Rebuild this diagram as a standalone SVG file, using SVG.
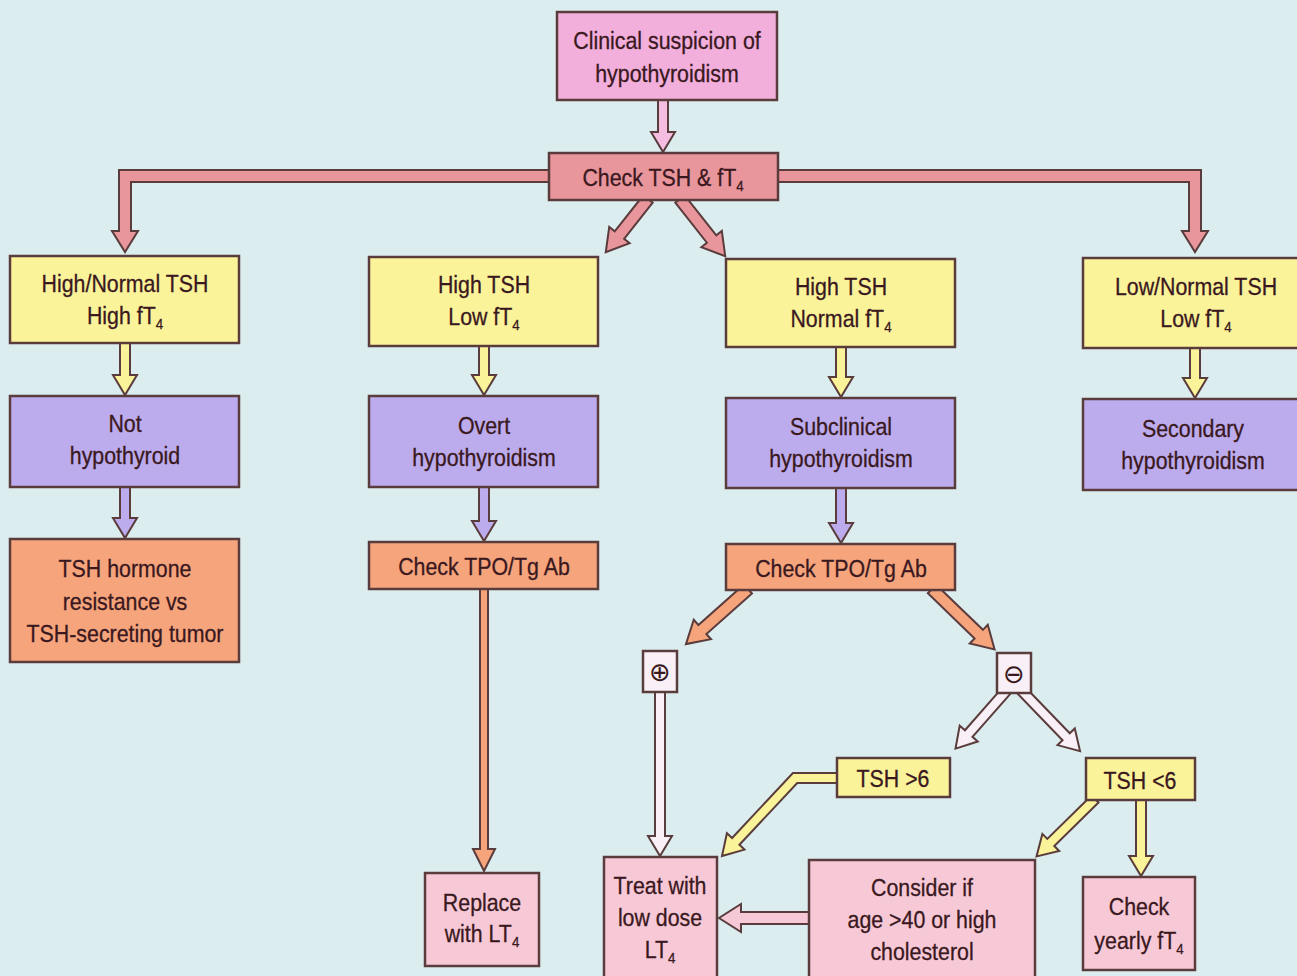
<svg xmlns="http://www.w3.org/2000/svg" width="1297" height="976" viewBox="0 0 1297 976">
<style>
.bx{stroke:#5a3c3c;stroke-width:2.5}
.ar{stroke:#5a3c3c;stroke-width:2;stroke-linejoin:miter}
.pk{fill:#f2afdc}
.pa{fill:#f5bde0}
.ck{fill:#e9959c}
.ye{fill:#fbf39a}
.pu{fill:#bcaced}
.or{fill:#f6a47c}
.lp{fill:#f7c9d7}
.wh{fill:#f8f0f6}
text{font-family:"Liberation Sans",Arial,sans-serif;font-size:24px;fill:#3a1820;text-anchor:middle;stroke:#3a1820;stroke-width:0.3}
.sub{font-size:15px}
.sym{font-family:"DejaVu Sans",sans-serif;font-size:26px;stroke-width:0}
</style>
<rect x="0" y="0" width="1297" height="976" fill="#dcedf0"/>
<g id="connectors">
  <polygon class="ar pa" transform="translate(663,100) rotate(90)" points="0,-5 32,-5 32,-12 52,0 32,12 32,5 0,5"/>
  <polygon class="ar ck" points="549,170 119,170 119,231 112,231 125,252 138,231 131,231 131,182 549,182"/>
  <polygon class="ar ck" points="778,170 1201,170 1201,231 1208,231 1195,252 1182,231 1189,231 1189,182 778,182"/>
  <polygon class="ar ck" transform="translate(648,199) rotate(128.4)" points="0,-6 46,-6 46,-13 68,0 46,13 46,6 0,6"/>
  <polygon class="ar ck" transform="translate(680,199) rotate(51.7)" points="0,-6 51,-6 51,-13 73,0 51,13 51,6 0,6"/>
  <polygon class="ar ye" transform="translate(125,343) rotate(90)" points="0,-5 32,-5 32,-12 52,0 32,12 32,5 0,5"/>
  <polygon class="ar ye" transform="translate(484,346) rotate(90)" points="0,-5 29,-5 29,-12 49,0 29,12 29,5 0,5"/>
  <polygon class="ar ye" transform="translate(841,347) rotate(90)" points="0,-5 30,-5 30,-12 50,0 30,12 30,5 0,5"/>
  <polygon class="ar ye" transform="translate(1195,348) rotate(90)" points="0,-5 30,-5 30,-12 50,0 30,12 30,5 0,5"/>
  <polygon class="ar pu" transform="translate(125,487) rotate(90)" points="0,-5 31,-5 31,-12 51,0 31,12 31,5 0,5"/>
  <polygon class="ar pu" transform="translate(484,487) rotate(90)" points="0,-5 34,-5 34,-12 54,0 34,12 34,5 0,5"/>
  <polygon class="ar pu" transform="translate(841,488) rotate(90)" points="0,-5 35,-5 35,-12 55,0 35,12 35,5 0,5"/>
  <polygon class="ar or" transform="translate(484,589) rotate(90)" points="0,-4 260,-4 260,-11 282,0 260,11 260,4 0,4"/>
  <polygon class="ar or" transform="translate(748,589) rotate(138.4)" points="0,-6 61,-6 61,-13 83,0 61,13 61,6 0,6"/>
  <polygon class="ar or" transform="translate(932,589) rotate(44)" points="0,-6 65,-6 65,-13 87,0 65,13 65,6 0,6"/>
  <polygon class="ar wh" transform="translate(660,692) rotate(90)" points="0,-5 144,-5 144,-12 164,0 144,12 144,5 0,5"/>
  <polygon class="ar wh" transform="translate(1007,690) rotate(131.3)" points="0,-5 58,-5 58,-12 78,0 58,12 58,5 0,5"/>
  <polygon class="ar wh" transform="translate(1021,690) rotate(46)" points="0,-5 65,-5 65,-12 85,0 65,12 65,5 0,5"/>
  <polygon class="ar ye" points="837,773 792.9,773 732.1,838 726.9,833.2 722,856 744.5,849.6 739.4,844.8 797.2,783 837,783"/>
  <polygon class="ar ye" transform="translate(1095,799) rotate(135.5)" points="0,-5 62,-5 62,-12 82,0 62,12 62,5 0,5"/>
  <polygon class="ar ye" transform="translate(1141,800) rotate(90)" points="0,-5 56,-5 56,-12 76,0 56,12 56,5 0,5"/>
  <polygon class="ar lp" transform="translate(809,918) rotate(180)" points="0,-6 68,-6 68,-14 90,0 68,14 68,6 0,6"/>
</g>
<g id="n-clinical"><rect class="bx pk" x="557" y="12" width="220" height="88"/><g transform="translate(667,0) scale(0.89,1)"><text x="0" y="49">Clinical suspicion of</text><text x="0" y="82">hypothyroidism</text></g></g>
<g id="n-check-tsh"><rect class="bx ck" x="549" y="153" width="229" height="47"/><g transform="translate(663,0) scale(0.89,1)"><text x="0" y="186">Check TSH &amp; fT<tspan class="sub" dy="5">4</tspan></text></g></g>
<g id="n-high-normal-tsh"><rect class="bx ye" x="10" y="256" width="229" height="87"/><g transform="translate(125,0) scale(0.89,1)"><text x="0" y="292">High/Normal TSH</text><text x="0" y="324">High fT<tspan class="sub" dy="5">4</tspan></text></g></g>
<g id="n-high-tsh-low"><rect class="bx ye" x="369" y="257" width="229" height="89"/><g transform="translate(484,0) scale(0.89,1)"><text x="0" y="293">High TSH</text><text x="0" y="325">Low fT<tspan class="sub" dy="5">4</tspan></text></g></g>
<g id="n-high-tsh-normal"><rect class="bx ye" x="726" y="259" width="229" height="88"/><g transform="translate(841,0) scale(0.89,1)"><text x="0" y="295">High TSH</text><text x="0" y="327">Normal fT<tspan class="sub" dy="5">4</tspan></text></g></g>
<g id="n-low-normal-tsh"><rect class="bx ye" x="1083" y="258" width="230" height="90"/><g transform="translate(1196,0) scale(0.89,1)"><text x="0" y="295">Low/Normal TSH</text><text x="0" y="327">Low fT<tspan class="sub" dy="5">4</tspan></text></g></g>
<g id="n-not-hypo"><rect class="bx pu" x="10" y="396" width="229" height="91"/><g transform="translate(125,0) scale(0.89,1)"><text x="0" y="432">Not</text><text x="0" y="464">hypothyroid</text></g></g>
<g id="n-overt"><rect class="bx pu" x="369" y="396" width="229" height="91"/><g transform="translate(484,0) scale(0.89,1)"><text x="0" y="434">Overt</text><text x="0" y="466">hypothyroidism</text></g></g>
<g id="n-subclinical"><rect class="bx pu" x="726" y="398" width="229" height="90"/><g transform="translate(841,0) scale(0.89,1)"><text x="0" y="435">Subclinical</text><text x="0" y="467">hypothyroidism</text></g></g>
<g id="n-secondary"><rect class="bx pu" x="1083" y="399" width="230" height="91"/><g transform="translate(1193,0) scale(0.89,1)"><text x="0" y="437">Secondary</text><text x="0" y="469">hypothyroidism</text></g></g>
<g id="n-tsh-resistance"><rect class="bx or" x="10" y="539" width="229" height="123"/><g transform="translate(125,0) scale(0.89,1)"><text x="0" y="577">TSH hormone</text><text x="0" y="610">resistance vs</text><text x="0" y="642">TSH-secreting tumor</text></g></g>
<g id="n-tpo-left"><rect class="bx or" x="369" y="542" width="229" height="47"/><g transform="translate(484,0) scale(0.89,1)"><text x="0" y="575">Check TPO/Tg Ab</text></g></g>
<g id="n-tpo-right"><rect class="bx or" x="726" y="544" width="229" height="46"/><g transform="translate(841,0) scale(0.89,1)"><text x="0" y="577">Check TPO/Tg Ab</text></g></g>
<g id="n-positive"><rect class="bx wh" x="643" y="651" width="34" height="41"/><text class="sym" x="660" y="681">⊕</text></g>
<g id="n-negative"><rect class="bx wh" x="997" y="653" width="34" height="40"/><text class="sym" x="1014" y="683">⊖</text></g>
<g id="n-tsh-gt6"><rect class="bx ye" x="837" y="758" width="113" height="39"/><g transform="translate(893,0) scale(0.89,1)"><text x="0" y="787">TSH &gt;6</text></g></g>
<g id="n-tsh-lt6"><rect class="bx ye" x="1086" y="758" width="109" height="42"/><g transform="translate(1140,0) scale(0.89,1)"><text x="0" y="789">TSH &lt;6</text></g></g>
<g id="n-treat"><rect class="bx lp" x="604" y="857" width="113" height="130"/><g transform="translate(660,0) scale(0.89,1)"><text x="0" y="894">Treat with</text><text x="0" y="926">low dose</text><text x="0" y="958">LT<tspan class="sub" dy="5">4</tspan></text></g></g>
<g id="n-consider"><rect class="bx lp" x="809" y="860" width="226" height="127"/><g transform="translate(922,0) scale(0.89,1)"><text x="0" y="896">Consider if</text><text x="0" y="928">age &gt;40 or high</text><text x="0" y="960">cholesterol</text></g></g>
<g id="n-check-yearly"><rect class="bx lp" x="1083" y="877" width="112" height="93"/><g transform="translate(1139,0) scale(0.89,1)"><text x="0" y="915">Check</text><text x="0" y="949">yearly fT<tspan class="sub" dy="5">4</tspan></text></g></g>
<g id="n-replace"><rect class="bx lp" x="425" y="873" width="114" height="93"/><g transform="translate(482,0) scale(0.89,1)"><text x="0" y="911">Replace</text><text x="0" y="942">with LT<tspan class="sub" dy="5">4</tspan></text></g></g>
</svg>
